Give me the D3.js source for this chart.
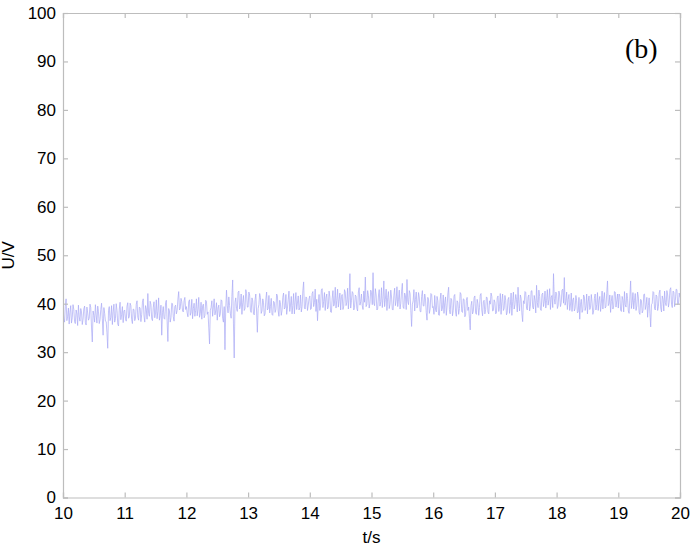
<!DOCTYPE html>
<html>
<head>
<meta charset="utf-8">
<script src="https://cdn.jsdelivr.net/npm/d3@7"></script>
<style>
  body { margin: 0; background: #fff; }
</style>
</head>
<body>
<div id="chart-area"></div>
<script>
// signal, 80 samples per second (t = 10 ... 20 s)
let sampleStep = 1 / 80;
let u10 = [38.9, 37.0, 36.2, 39.4, 41.0, 36.5, 37.4, 39.1, 35.8, 38.2,
           39.6, 36.0, 37.1, 39.8, 38.8, 36.3, 35.9, 38.7, 37.9, 35.5,
           39.7, 37.3, 36.4, 39.0, 38.3, 35.7, 36.8, 38.9, 39.5, 36.1,
           35.6, 39.3, 38.1, 36.6, 37.0, 39.9, 39.2, 35.0, 32.1, 38.5,
           37.6, 36.2, 39.8, 37.7, 36.0, 39.5, 38.4, 35.9, 36.7, 38.8,
           40.1, 36.9, 33.5, 39.2, 38.0, 36.4, 36.3, 34.0, 30.8, 38.6,
           39.4, 36.5, 37.2, 39.6, 35.7, 38.3, 39.9, 36.2, 36.9, 40.0,
           38.6, 35.8, 35.4, 38.9, 40.3, 36.7, 37.8, 39.4, 36.1, 38.5];
let u11 = [38.7, 36.9, 36.4, 39.5, 40.2, 37.0, 37.3, 40.1, 39.6, 36.7,
           35.9, 38.9, 38.8, 36.5, 37.0, 39.9, 40.6, 37.2, 36.6, 39.3,
           39.1, 36.3, 37.7, 40.3, 41.0, 37.5, 36.2, 39.6, 38.9, 36.8,
           42.1, 38.0, 37.4, 40.5, 39.8, 36.9, 36.5, 39.2, 40.4, 37.1,
           38.1, 40.8, 36.9, 38.4, 41.2, 36.6, 37.6, 39.7, 33.5, 38.2,
           39.4, 37.0, 36.8, 40.2, 40.7, 36.4, 32.2, 39.0, 38.5, 36.2,
           37.1, 40.1, 40.0, 37.3, 36.4, 39.4, 39.7, 37.9, 38.6, 40.9,
           42.5, 38.7, 39.0, 41.1, 40.4, 38.5, 38.3, 40.6, 41.3, 38.8];
let u12 = [39.4, 38.1, 37.3, 40.4, 40.8, 37.6, 38.2, 40.9, 36.9, 39.0,
           40.1, 37.4, 38.6, 41.0, 37.5, 38.8, 41.3, 37.2, 38.0, 40.3,
           36.8, 39.5, 39.9, 37.1, 37.6, 40.7, 40.5, 37.8, 38.3, 35.0,
           31.7, 38.6, 39.2, 40.6, 37.4, 39.3, 41.0, 37.7, 38.5, 40.2,
           36.6, 39.1, 39.7, 37.3, 37.9, 40.8, 40.6, 37.0, 36.2, 39.4,
           30.5, 38.9, 42.8, 39.6, 38.1, 41.4, 39.6, 38.0, 37.0, 41.5,
           44.9, 36.0, 28.8, 40.3, 41.2, 39.0, 38.4, 42.3, 42.6, 38.9,
           39.5, 42.0, 37.8, 40.2, 41.7, 38.6, 39.0, 42.9, 42.1, 39.3];
let u13 = [39.3, 42.4, 41.8, 38.6, 38.2, 41.2, 40.6, 37.9, 37.7, 40.8,
           42.0, 38.3, 34.1, 39.0, 39.8, 42.1, 41.3, 38.0, 38.5, 41.0,
           40.2, 37.5, 37.9, 40.9, 42.4, 38.7, 39.0, 41.7, 38.1, 39.4,
           41.1, 37.8, 37.6, 40.5, 40.3, 38.2, 38.8, 42.0, 41.6, 38.5,
           37.4, 40.7, 39.9, 37.6, 38.6, 41.3, 42.2, 38.9, 39.2, 41.9,
           37.8, 39.1, 40.9, 42.6, 38.4, 39.7, 41.5, 37.9, 39.6, 42.1,
           37.9, 40.4, 42.3, 38.8, 40.1, 41.6, 38.7, 39.2, 41.8, 38.3,
           39.4, 42.7, 44.5, 39.1, 38.9, 41.4, 41.2, 38.6, 39.7, 41.0];
let u14 = [41.6, 38.8, 39.0, 42.1, 42.5, 39.4, 40.2, 43.0, 38.4, 40.9,
           36.5, 40.0, 41.9, 38.6, 39.7, 42.8, 43.1, 39.2, 40.5, 42.3,
           38.6, 41.2, 42.0, 38.9, 39.3, 42.6, 41.4, 38.3, 38.2, 41.0,
           42.7, 39.5, 40.0, 43.4, 39.1, 40.7, 43.0, 39.3, 40.8, 42.2,
           38.7, 41.5, 41.9, 38.8, 39.5, 42.9, 42.4, 39.6, 40.3, 43.2,
           38.9, 41.3, 46.2, 39.1, 40.6, 42.5, 42.2, 38.7, 39.2, 41.8,
           41.5, 39.0, 38.5, 42.4, 43.3, 39.7, 40.4, 42.0, 39.6, 38.8,
           42.6, 40.3, 45.5, 39.4, 39.8, 42.7, 41.7, 39.1, 40.1, 42.8];
let u15 = [42.3, 39.8, 46.4, 40.1, 39.6, 43.1, 41.8, 38.7, 38.9, 41.6,
           42.9, 39.5, 40.4, 43.3, 39.2, 41.1, 44.7, 39.4, 40.9, 43.0,
           38.6, 41.3, 42.5, 39.0, 39.9, 42.8, 41.4, 38.8, 38.7, 41.7,
           43.2, 39.6, 40.7, 43.5, 39.4, 40.8, 42.8, 38.9, 40.1, 42.6,
           44.2, 39.3, 39.0, 42.2, 41.6, 38.8, 45.0, 40.5, 39.8, 42.7,
           42.1, 38.6, 35.3, 39.9, 40.6, 42.9, 38.5, 40.9, 42.4, 39.1,
           39.7, 42.3, 41.2, 38.4, 38.3, 41.5, 42.7, 39.6, 39.5, 42.0,
           41.0, 38.2, 36.6, 41.3, 40.8, 38.0, 38.9, 42.1, 41.9, 39.2];
let u16 = [39.4, 37.8, 41.7, 38.9, 38.3, 41.5, 40.6, 37.7, 37.6, 40.9,
           42.2, 38.5, 39.1, 41.8, 38.0, 40.3, 41.4, 37.6, 39.5, 42.0,
           43.4, 38.8, 37.9, 41.1, 40.8, 37.5, 38.6, 41.6, 41.9, 38.3,
           37.4, 40.6, 40.2, 37.8, 39.0, 42.3, 42.0, 38.4, 38.2, 41.0,
           40.9, 37.3, 37.7, 40.7, 41.3, 38.6, 39.3, 37.0, 34.6, 39.6,
           40.5, 37.9, 38.4, 41.2, 41.6, 38.1, 37.8, 40.9, 40.0, 37.6,
           39.2, 41.8, 42.1, 38.7, 37.5, 40.4, 40.7, 37.9, 38.8, 41.4,
           41.2, 38.3, 37.9, 40.6, 39.9, 42.2, 41.5, 38.5, 38.6, 40.8];
let u17 = [40.3, 37.9, 38.1, 41.2, 41.6, 38.4, 39.4, 42.1, 37.8, 40.5,
           42.0, 38.6, 39.0, 41.7, 40.7, 37.7, 38.2, 40.9, 41.3, 38.0,
           39.6, 42.2, 37.6, 40.4, 42.4, 38.9, 39.8, 41.9, 40.9, 38.3,
           43.4, 40.1, 38.5, 41.8, 41.1, 37.9, 36.3, 40.6, 40.0, 42.5,
           42.3, 39.1, 38.7, 41.4, 41.8, 38.5, 39.5, 42.6, 42.7, 39.3,
           38.9, 41.7, 40.6, 38.1, 43.8, 40.2, 39.2, 42.8, 41.5, 38.9,
           38.6, 41.9, 42.2, 39.4, 40.4, 42.6, 39.1, 40.7, 42.9, 39.7,
           40.8, 43.1, 38.8, 41.3, 41.7, 39.2, 46.2, 41.0, 39.9, 42.4];
let u18 = [42.1, 39.0, 39.6, 42.6, 41.8, 39.4, 40.2, 42.8, 43.0, 40.1,
           45.4, 39.7, 40.5, 42.4, 38.8, 40.9, 41.9, 38.6, 39.7, 42.2,
           38.4, 40.8, 41.2, 38.5, 39.0, 41.7, 40.6, 38.1, 38.3, 41.3,
           36.8, 39.9, 40.9, 38.2, 38.7, 41.8, 41.4, 38.6, 39.3, 42.0,
           37.9, 40.4, 41.6, 38.8, 39.2, 41.9, 40.3, 37.8, 38.5, 41.1,
           42.0, 38.7, 39.8, 42.3, 38.6, 40.7, 41.5, 38.4, 40.1, 42.6,
           38.9, 41.0, 42.3, 39.1, 39.4, 42.1, 44.7, 39.6, 40.0, 41.8,
           38.2, 40.5, 41.7, 38.9, 39.5, 42.5, 42.4, 39.3, 40.6, 42.0];
let u19 = [39.1, 42.0, 41.6, 38.7, 38.4, 41.5, 40.8, 38.3, 42.5, 39.8,
           39.3, 42.2, 41.1, 38.5, 38.0, 41.4, 44.7, 39.0, 40.2, 42.3,
           38.9, 40.7, 42.1, 38.6, 39.5, 42.4, 41.4, 38.2, 37.8, 40.9,
           40.6, 38.1, 38.6, 41.9, 42.0, 38.8, 39.7, 41.3, 37.2, 39.6,
           41.2, 38.0, 35.2, 39.8, 40.1, 42.5, 42.3, 39.0, 38.7, 41.8,
           41.5, 38.6, 39.4, 42.2, 42.8, 39.1, 38.3, 41.6, 40.9, 38.5,
           42.6, 40.2, 39.6, 42.7, 41.8, 39.3, 40.3, 42.9, 43.3, 39.9,
           39.2, 42.6, 42.4, 39.4, 40.7, 43.0, 42.9, 39.8, 40.0, 42.2];
let u20 = [41.3];

let xTicks = [10, 11, 12, 13, 14, 15, 16, 17, 18, 19, 20];
let yTicks = [0, 10, 20, 30, 40, 50, 60, 70, 80, 90, 100];

let voltage = [].concat(u10, u11, u12, u13, u14, u15, u16, u17, u18, u19, u20);
let signal = voltage.map(function(v, i){ return { t: 10 + i * sampleStep, u: v }; });

let margin = { left: 63, right: 14, top: 13, bottom: 53.5 };
let width = 694 - margin.left - margin.right;
let height = 551 - margin.top - margin.bottom;

let svg = d3.select("#chart-area")
            .append("svg")
            .attr("width", 694)
            .attr("height", 551)
            .style("font-family", "Arial, 'Liberation Sans', sans-serif");

let g = svg.append("g")
           .attr("transform", "translate(" + margin.left + "," + margin.top + ")");

let xScale = d3.scaleLinear().domain([10, 20]).range([0, width]);
let yScale = d3.scaleLinear().domain([0, 100]).range([height, 0]);

g.append("defs").append("clipPath").attr("id", "plot-clip")
    .append("rect").attr("width", width).attr("height", height);

// signal
let line = d3.line()
             .x(function(d){ return xScale(d.t); })
             .y(function(d){ return yScale(d.u); });

g.append("path")
    .datum(signal)
    .attr("clip-path", "url(#plot-clip)")
    .attr("fill", "none")
    .attr("stroke", "#a9a9f5")
    .attr("stroke-width", 0.7)
    .attr("d", line);

// axes, ticks pointing inward on all four sides
let xAxis = d3.axisBottom(xScale).tickValues(xTicks).tickSize(-5).tickPadding(9);
let yAxis = d3.axisLeft(yScale).tickValues(yTicks).tickSize(-5).tickPadding(7);

g.append("g").attr("class", "axis")
    .attr("transform", "translate(0," + height + ")")
    .call(xAxis);
g.append("g").attr("class", "axis")
    .call(yAxis);
g.append("g").attr("class", "axis")
    .call(d3.axisTop(xScale).tickValues(xTicks).tickSize(-5).tickFormat(""));
g.append("g").attr("class", "axis")
    .attr("transform", "translate(" + width + ",0)")
    .call(d3.axisRight(yScale).tickValues(yTicks).tickSize(-5).tickFormat(""));

g.selectAll(".axis path, .axis line")
    .attr("stroke", "#bdbdbd")
    .attr("stroke-width", 1.2);
g.selectAll(".axis text")
    .style("font-size", "17px")
    .style("font-family", "Arial, 'Liberation Sans', sans-serif")
    .attr("fill", "#000");

// labels
g.append("text")
    .attr("x", width / 2)
    .attr("y", height + 45)
    .style("font-size", "17px")
    .attr("text-anchor", "middle")
    .text("t/s");

g.append("text")
    .attr("x", -(height / 2))
    .attr("y", -49)
    .style("font-size", "17px")
    .attr("text-anchor", "middle")
    .attr("transform", "rotate(-90)")
    .text("U/V");

g.append("text")
    .attr("x", 562)
    .attr("y", 45)
    .style("font-size", "28px")
    .style("font-family", "'Times New Roman', 'Liberation Serif', serif")
    .text("(b)");
</script>
</body>
</html>
